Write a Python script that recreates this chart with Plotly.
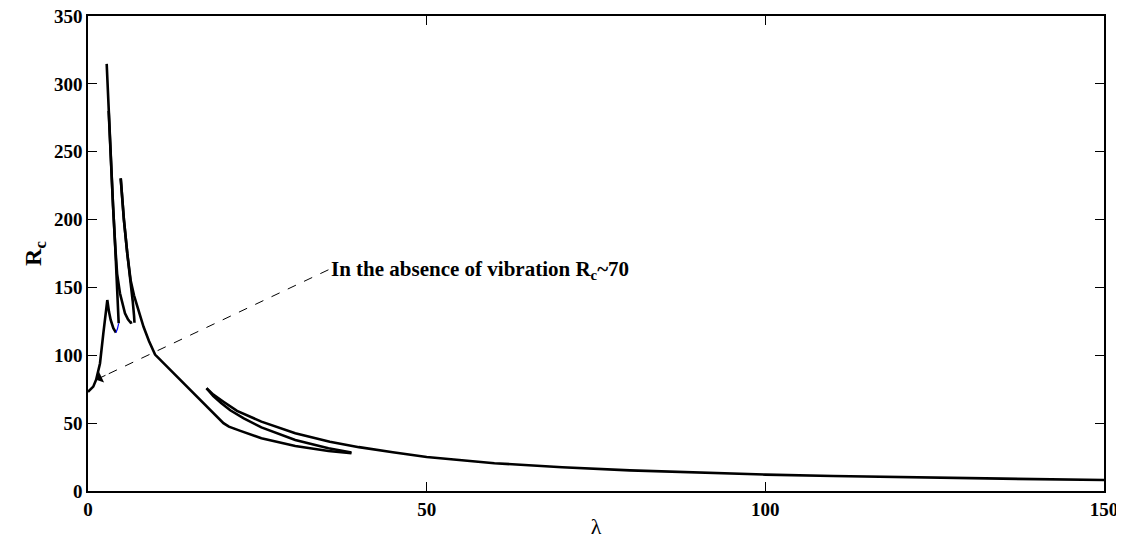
import plotly.graph_objects as go
import math

# ---- data ----
# main curve from lambda=0: rises to a local peak, dips
main_x = [0, 0.3, 0.78, 1.2, 1.77, 2.26, 2.6, 2.85, 3.1, 3.35, 3.74, 4.13]
main_y = [73, 74.4, 76.9, 82, 94, 116, 131, 140.7, 132, 126, 120, 116.7]

# small blue connecting segment
blue_x = [4.13, 4.35, 4.53]
blue_y = [116.7, 119.5, 123.6]

# tall branch A
a_x = [2.76, 3.05, 3.35, 3.7, 4.0, 4.23, 4.45, 4.53, 4.53]
a_y = [314.7, 280, 244, 210, 182, 155.5, 136, 132, 123.6]

# branch B (splits from A)
b_x = [3.05, 3.35, 3.7, 4.0, 4.3, 4.72, 5.1, 5.46, 5.9, 6.3, 6.5]
b_y = [280, 244, 210, 182, 160, 145.7, 137, 131, 126.5, 124, 124.5]

# branch C
c_x = [4.83, 5.3, 5.8, 6.3, 6.6, 6.8, 6.86]
c_y = [230.4, 200, 175, 155, 140, 129, 124]

# branch D (continues to the long decay)
d_x = [4.83, 5.3, 5.8, 6.3, 6.8, 7.2, 7.7, 8.2, 9.0, 9.9, 20.0, 20.8, 22.5, 25.6, 30.6, 35.5, 38.9]
d_y = [230.4, 200, 175, 155, 144, 137, 128.5, 121, 110.5, 100.5, 50.0, 47.4, 44.3, 38.8, 33.2, 29.5, 27.8]

# middle branch
m_x = [17.5, 18.5, 19.7, 21, 23, 25.6, 30.6, 35.5, 38.9]
m_y = [75.7, 70, 64.6, 59.5, 53.5, 46.9, 37.6, 31.5, 28.3]

# upper branch extending to lambda=150
u_x = [17.5, 18.5, 20, 22, 25.6, 30.6, 35.7, 40, 45, 50, 60, 70, 80, 90, 100, 110, 120, 135, 150]
u_y = [75.7, 71, 65.8, 59, 51.1, 42.5, 36.3, 32.3, 28.5, 25.0, 20.5, 17.5, 15.2, 13.5, 12.1, 11.1, 10.2, 9.1, 8.1]

# annotation: text anchor and arrow head
note_text_x, note_text_y = 35.5, 163
note_head_x, note_head_y = 1.2, 82
note_text = "<b>In the absence of vibration R<sub>c</sub>~70</b>"

x_ticks = [0, 50, 100, 150]
y_ticks = [0, 50, 100, 150, 200, 250, 300, 350]

# ---- figure ----
# page body adds ~8px offset; size the figure so the plot area lands where the reference has it
W, H = 1116, 531
ML, MR, MT, MB = 80, 20, 8, 48
XR = [0, 150]
YR = [0, 350]
FONT = "Liberation Serif, Times New Roman, serif"

fig = go.Figure()
lw = 2.6
for xs, ys in [(main_x, main_y), (a_x, a_y), (b_x, b_y), (c_x, c_y), (d_x, d_y), (m_x, m_y), (u_x, u_y)]:
    fig.add_trace(go.Scatter(x=xs, y=ys, mode="lines", line=dict(color="black", width=lw),
                             showlegend=False, hoverinfo="skip"))
fig.add_trace(go.Scatter(x=blue_x, y=blue_y, mode="lines", line=dict(color="blue", width=1.2),
                         showlegend=False, hoverinfo="skip"))

# dashed pointer line
fig.add_trace(go.Scatter(x=[note_text_x, note_head_x], y=[note_text_y, note_head_y], mode="lines",
                         line=dict(color="black", width=1, dash="dash"),
                         showlegend=False, hoverinfo="skip"))

# arrow head only (short arrow along the dashed direction)
pw = W - ML - MR
ph = H - MT - MB
sx = pw / (XR[1] - XR[0])
sy = ph / (YR[1] - YR[0])
dxp = (note_text_x - note_head_x) * sx
dyp = -(note_text_y - note_head_y) * sy
L = math.hypot(dxp, dyp)
k = 12 / L
fig.add_annotation(x=note_head_x, y=note_head_y, xref="x", yref="y", ax=dxp * k, ay=dyp * k,
                   text="", showarrow=True, arrowhead=1, arrowsize=2, arrowwidth=1, arrowcolor="black")

fig.add_annotation(x=note_text_x, y=note_text_y, xref="x", yref="y", text=note_text, showarrow=False,
                   xanchor="left", yanchor="middle", xshift=1,
                   font=dict(family=FONT, size=21, color="black"))

axis_common = dict(showgrid=False, zeroline=False, showline=True, linecolor="black", linewidth=1.5,
                   ticks="inside", ticklen=9, tickwidth=1, tickcolor="black", mirror="ticks",
                   automargin=False, ticklabeloverflow="allow",
                   tickfont=dict(family=FONT, size=19, color="black"))

fig.update_xaxes(range=XR, tickvals=x_ticks, ticktext=[f"<b>{v}</b>" for v in x_ticks],
                 title=dict(text="λ", font=dict(family=FONT, size=22, color="black"), standoff=2),
                 **axis_common)
fig.update_yaxes(range=YR, tickvals=y_ticks, ticktext=[f"<b>{v}</b>" for v in y_ticks],
                 title=dict(text="<b>R<sub>c</sub></b>", font=dict(family=FONT, size=24, color="black"),
                            standoff=6),
                 **axis_common)

fig.update_layout(width=W, height=H, margin=dict(l=ML, r=MR, t=MT, b=MB, autoexpand=False),
                  plot_bgcolor="white", paper_bgcolor="white")

fig.write_html("out.html")
